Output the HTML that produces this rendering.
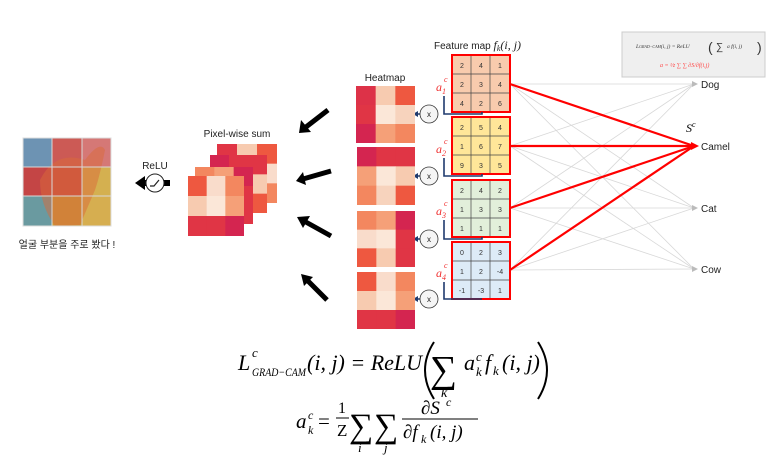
<!DOCTYPE html>
<html><head><meta charset="utf-8"><style>
body{margin:0;background:#fff;}
svg{display:block;font-family:"Liberation Sans","Noto Sans CJK KR",sans-serif;}
.m{font-family:"Liberation Serif",serif;font-style:italic;}
</style></head><body>
<svg width="771" height="466" viewBox="0 0 771 466" xmlns="http://www.w3.org/2000/svg">
<g stroke="#d8d8d8" stroke-width="0.8">
<line x1="510" y1="84" x2="694" y2="84"/><line x1="510" y1="84" x2="694" y2="208"/><line x1="510" y1="84" x2="694" y2="269"/>
<line x1="510" y1="146" x2="694" y2="84"/><line x1="510" y1="146" x2="694" y2="208"/><line x1="510" y1="146" x2="694" y2="269"/>
<line x1="510" y1="208" x2="694" y2="84"/><line x1="510" y1="208" x2="694" y2="208"/><line x1="510" y1="208" x2="694" y2="269"/>
<line x1="510" y1="270" x2="694" y2="84"/><line x1="510" y1="270" x2="694" y2="208"/><line x1="510" y1="270" x2="694" y2="269"/>
</g>
<g fill="#bbb"><polygon points="698,84 692,81 692,87"/><polygon points="698,208 692,205 692,211"/><polygon points="698,269 692,266 692,272"/></g>
<g stroke="#ff0000" stroke-width="2.2">
<line x1="510" y1="84" x2="694" y2="146"/><line x1="510" y1="146" x2="694" y2="146"/><line x1="510" y1="208" x2="694" y2="146"/><line x1="510" y1="270" x2="694" y2="146"/>
</g>
<polygon points="699,146 691,142 691,150" fill="#f00"/>
<g font-size="10" fill="#222"><text x="701" y="88">Dog</text><text x="701" y="150">Camel</text><text x="701" y="212">Cat</text><text x="701" y="273">Cow</text></g>
<text x="686" y="132" class="m" font-size="12">S<tspan font-size="8" dy="-5">c</tspan></text>

<rect x="622" y="32" width="143" height="45" fill="#efefef" stroke="#ccc"/>
<text x="636" y="48" font-size="5.5" class="m" fill="#333">L<tspan font-size="4">GRAD−CAM</tspan>(i, j) = ReLU</text>
<text x="708" y="52" font-size="14" fill="#333">(</text><text x="716" y="50" font-size="10" fill="#333">∑</text><text x="727" y="48" font-size="5.5" class="m" fill="#333">a f(i, j)</text><text x="757" y="52" font-size="14" fill="#333">)</text>
<text x="660" y="67" font-size="6" class="m" fill="#f44">a = ¹⁄z ∑ ∑ ∂S/∂f(i,j)</text>

<text x="434" y="49" font-size="10" fill="#222">Feature map <tspan class="m" font-size="12">f<tspan font-size="8" dy="2">k</tspan><tspan dy="-2">(i, j)</tspan></tspan></text>
<g font-size="7" fill="#333" text-anchor="middle">
<rect x="452" y="55" width="58" height="57" fill="#f8cbad" stroke="#f00" stroke-width="2"/>
<path d="M471 56V111M490 56V111M453 74H509M453 93H509" stroke="#444" stroke-width="0.7"/>
<text x="462" y="68">2</text><text x="481" y="68">4</text><text x="500" y="68">1</text><text x="462" y="87">2</text><text x="481" y="87">3</text><text x="500" y="87">4</text><text x="462" y="106">4</text><text x="481" y="106">2</text><text x="500" y="106">6</text>
<rect x="452" y="117" width="58" height="57" fill="#ffe699" stroke="#f00" stroke-width="2"/>
<path d="M471 118V173M490 118V173M453 136H509M453 155H509" stroke="#444" stroke-width="0.7"/>
<text x="462" y="130">2</text><text x="481" y="130">5</text><text x="500" y="130">4</text><text x="462" y="149">1</text><text x="481" y="149">6</text><text x="500" y="149">7</text><text x="462" y="168">9</text><text x="481" y="168">3</text><text x="500" y="168">5</text>
<rect x="452" y="180" width="58" height="57" fill="#e2efda" stroke="#f00" stroke-width="2"/>
<path d="M471 181V236M490 181V236M453 199H509M453 218H509" stroke="#444" stroke-width="0.7"/>
<text x="462" y="193">2</text><text x="481" y="193">4</text><text x="500" y="193">2</text><text x="462" y="212">1</text><text x="481" y="212">3</text><text x="500" y="212">3</text><text x="462" y="231">1</text><text x="481" y="231">1</text><text x="500" y="231">1</text>
<rect x="452" y="242" width="58" height="57" fill="#ddebf7" stroke="#f00" stroke-width="2"/>
<path d="M471 243V298M490 243V298M453 261H509M453 280H509" stroke="#444" stroke-width="0.7"/>
<text x="462" y="255">0</text><text x="481" y="255">2</text><text x="500" y="255">3</text><text x="462" y="274">1</text><text x="481" y="274">2</text><text x="500" y="274">-4</text><text x="462" y="293">-1</text><text x="481" y="293">-3</text><text x="500" y="293">1</text>
</g>
<g class="m" font-size="12" fill="#f03030">
<text x="436" y="91">a<tspan font-size="8" dy="3">1</tspan></text><text x="444" y="82" font-size="8">c</text>
<text x="436" y="153">a<tspan font-size="8" dy="3">2</tspan></text><text x="444" y="144" font-size="8">c</text>
<text x="436" y="215">a<tspan font-size="8" dy="3">3</tspan></text><text x="444" y="206" font-size="8">c</text>
<text x="436" y="277">a<tspan font-size="8" dy="3">4</tspan></text><text x="444" y="268" font-size="8">c</text>
</g>
<g stroke="#1f3a6e" stroke-width="1.6" fill="none">
<path d="M444 96V114H482V112M420 114H416"/>
<path d="M444 158V176H482V174M420 176H416"/>
<path d="M444 220V239H482V237M420 239H416"/>
<path d="M444 282V299H482V299M420 299H416"/>
</g>
<g fill="#1f3a6e"><polygon points="413,114 418,111 418,117"/><polygon points="413,176 418,173 418,179"/><polygon points="413,239 418,236 418,242"/><polygon points="413,299 418,296 418,302"/></g>
<g fill="#f5f5f5" stroke="#333" stroke-width="0.8"><circle cx="429" cy="114" r="9"/><circle cx="429" cy="176" r="9"/><circle cx="429" cy="239" r="9"/><circle cx="429" cy="299" r="9"/></g>
<g font-size="8" fill="#222" text-anchor="middle"><text x="429" y="117">x</text><text x="429" y="179">x</text><text x="429" y="242">x</text><text x="429" y="302">x</text></g>

<text x="385" y="81" font-size="10" fill="#222" text-anchor="middle">Heatmap</text>
<svg x="356" y="86" width="59" height="57" viewBox="0 0 3 3" preserveAspectRatio="none">
<rect x="0" y="0" width="1.02" height="1.02" fill="#dd3248"/><rect x="1" y="0" width="1.02" height="1.02" fill="#f7cbb0"/><rect x="2" y="0" width="1" height="1.02" fill="#ee5840"/>
<rect x="0" y="1" width="1.02" height="1.02" fill="#e03545"/><rect x="1" y="1" width="1.02" height="1.02" fill="#fbe7d8"/><rect x="2" y="1" width="1" height="1.02" fill="#f7d3bd"/>
<rect x="0" y="2" width="1.02" height="1" fill="#d42550"/><rect x="1" y="2" width="1.02" height="1" fill="#f5a078"/><rect x="2" y="2" width="1" height="1" fill="#f3875f"/></svg>
<svg x="357" y="147" width="58" height="58" viewBox="0 0 3 3" preserveAspectRatio="none">
<rect x="0" y="0" width="1.02" height="1.02" fill="#d42550"/><rect x="1" y="0" width="1.02" height="1.02" fill="#e03545"/><rect x="2" y="0" width="1" height="1.02" fill="#e03545"/>
<rect x="0" y="1" width="1.02" height="1.02" fill="#f5a078"/><rect x="1" y="1" width="1.02" height="1.02" fill="#fbe7d8"/><rect x="2" y="1" width="1" height="1.02" fill="#f7cbb0"/>
<rect x="0" y="2" width="1.02" height="1" fill="#f3875f"/><rect x="1" y="2" width="1.02" height="1" fill="#f7d3bd"/><rect x="2" y="2" width="1" height="1" fill="#ee5840"/></svg>
<svg x="357" y="211" width="58" height="56" viewBox="0 0 3 3" preserveAspectRatio="none">
<rect x="0" y="0" width="1.02" height="1.02" fill="#f3875f"/><rect x="1" y="0" width="1.02" height="1.02" fill="#f5a078"/><rect x="2" y="0" width="1" height="1.02" fill="#d42550"/>
<rect x="0" y="1" width="1.02" height="1.02" fill="#f9dccb"/><rect x="1" y="1" width="1.02" height="1.02" fill="#fbe7d8"/><rect x="2" y="1" width="1" height="1.02" fill="#e03545"/>
<rect x="0" y="2" width="1.02" height="1" fill="#ee5840"/><rect x="1" y="2" width="1.02" height="1" fill="#f7cbb0"/><rect x="2" y="2" width="1" height="1" fill="#e03545"/></svg>
<svg x="357" y="272" width="58" height="57" viewBox="0 0 3 3" preserveAspectRatio="none">
<rect x="0" y="0" width="1.02" height="1.02" fill="#ee5840"/><rect x="1" y="0" width="1.02" height="1.02" fill="#f9dccb"/><rect x="2" y="0" width="1" height="1.02" fill="#f3875f"/>
<rect x="0" y="1" width="1.02" height="1.02" fill="#f7cbb0"/><rect x="1" y="1" width="1.02" height="1.02" fill="#fbe7d8"/><rect x="2" y="1" width="1" height="1.02" fill="#f5a078"/>
<rect x="0" y="2" width="1.02" height="1" fill="#e03545"/><rect x="1" y="2" width="1.02" height="1" fill="#e03545"/><rect x="2" y="2" width="1" height="1" fill="#d42550"/></svg>

<g stroke="#000" stroke-width="5" fill="none">
<line x1="328" y1="110" x2="306" y2="127"/><line x1="331" y1="171" x2="303" y2="179"/><line x1="331" y1="236" x2="304" y2="221"/><line x1="327" y1="300" x2="306" y2="279"/>
</g>
<g fill="#000">
<polygon points="299,133 301,120 311,132"/>
<polygon points="296,181 303,172 306,185"/>
<polygon points="297,217 310,216 303,228"/>
<polygon points="301,274 313,277 304,286"/>
</g>

<text x="237" y="137" font-size="10" fill="#222" text-anchor="middle">Pixel-wise sum</text>
<svg x="217" y="144" width="60" height="59" viewBox="0 0 3 3" preserveAspectRatio="none">
<rect x="0" y="0" width="1.02" height="1.02" fill="#e03545"/><rect x="1" y="0" width="1.02" height="1.02" fill="#f7cbb0"/><rect x="2" y="0" width="1" height="1.02" fill="#ee5840"/>
<rect x="0" y="1" width="1.02" height="1.02" fill="#e03545"/><rect x="1" y="1" width="1.02" height="1.02" fill="#fbe7d8"/><rect x="2" y="1" width="1" height="1.02" fill="#f9dccb"/>
<rect x="0" y="2" width="1.02" height="1" fill="#d42550"/><rect x="1" y="2" width="1.02" height="1" fill="#f5a078"/><rect x="2" y="2" width="1" height="1" fill="#f3875f"/></svg>
<svg x="210" y="155" width="57" height="58" viewBox="0 0 3 3" preserveAspectRatio="none">
<rect x="0" y="0" width="1.02" height="1.02" fill="#d42550"/><rect x="1" y="0" width="1.02" height="1.02" fill="#e03545"/><rect x="2" y="0" width="1" height="1.02" fill="#e03545"/>
<rect x="0" y="1" width="1.02" height="1.02" fill="#f5a078"/><rect x="1" y="1" width="1.02" height="1.02" fill="#fbe7d8"/><rect x="2" y="1" width="1" height="1.02" fill="#f7cbb0"/>
<rect x="0" y="2" width="1.02" height="1" fill="#f3875f"/><rect x="1" y="2" width="1.02" height="1" fill="#f7d3bd"/><rect x="2" y="2" width="1" height="1" fill="#ee5840"/></svg>
<svg x="195" y="167" width="58" height="57" viewBox="0 0 3 3" preserveAspectRatio="none">
<rect x="0" y="0" width="1.02" height="1.02" fill="#f3875f"/><rect x="1" y="0" width="1.02" height="1.02" fill="#f5a078"/><rect x="2" y="0" width="1" height="1.02" fill="#d42550"/>
<rect x="0" y="1" width="1.02" height="1.02" fill="#f9dccb"/><rect x="1" y="1" width="1.02" height="1.02" fill="#fbe7d8"/><rect x="2" y="1" width="1" height="1.02" fill="#e03545"/>
<rect x="0" y="2" width="1.02" height="1" fill="#ee5840"/><rect x="1" y="2" width="1.02" height="1" fill="#f7cbb0"/><rect x="2" y="2" width="1" height="1" fill="#e03545"/></svg>
<svg x="188" y="176" width="56" height="60" viewBox="0 0 3 3" preserveAspectRatio="none">
<rect x="0" y="0" width="1.02" height="1.02" fill="#ee5840"/><rect x="1" y="0" width="1.02" height="1.02" fill="#f9dccb"/><rect x="2" y="0" width="1" height="1.02" fill="#f3875f"/>
<rect x="0" y="1" width="1.02" height="1.02" fill="#f7cbb0"/><rect x="1" y="1" width="1.02" height="1.02" fill="#fbe7d8"/><rect x="2" y="1" width="1" height="1.02" fill="#f5a078"/>
<rect x="0" y="2" width="1.02" height="1" fill="#e03545"/><rect x="1" y="2" width="1.02" height="1" fill="#e03545"/><rect x="2" y="2" width="1" height="1" fill="#d42550"/></svg>

<text x="155" y="169" font-size="10" fill="#222" text-anchor="middle">ReLU</text>
<rect x="144" y="180" width="26" height="6" fill="#000"/>
<polygon points="135,183 145,176 145,190" fill="#000"/>
<circle cx="155" cy="183" r="9" fill="#fff" stroke="#222" stroke-width="1"/>
<path d="M150 186H154L159 180" stroke="#222" stroke-width="1.2" fill="none"/>

<rect x="23" y="138" width="88" height="88" fill="#c9a070"/>
<rect x="23" y="138" width="29" height="29" fill="#6d93b3"/><rect x="52" y="138" width="30" height="29" fill="#cc5a55"/><rect x="82" y="138" width="29" height="29" fill="#d57876"/>
<rect x="23" y="167" width="29" height="29" fill="#c44545"/><rect x="52" y="167" width="30" height="29" fill="#c94a40"/><rect x="82" y="167" width="29" height="29" fill="#d4b050"/>
<rect x="23" y="196" width="29" height="30" fill="#6a9aa0"/><rect x="52" y="196" width="30" height="30" fill="#c89a38"/><rect x="82" y="196" width="29" height="30" fill="#d6ae50"/>
<path d="M40 180 Q55 150 85 160 Q100 140 105 150 Q100 175 95 190 L80 225 L55 226 Q40 205 40 180Z" fill="#d96a3a" opacity="0.5"/>
<path d="M52 138V226M82 138V226M23 167H111M23 196H111" stroke="#d8d8d8" stroke-width="1"/>
<rect x="23" y="138" width="88" height="88" fill="none" stroke="#ddd"/>
<text x="67" y="248" font-size="10" fill="#222" text-anchor="middle">얼굴 부분을 주로 봤다 !</text>

<g class="m" fill="#000">
<text x="238" y="370" font-size="22">L</text>
<text x="252" y="357" font-size="13">c</text>
<text x="252" y="376" font-size="12" textLength="54" lengthAdjust="spacingAndGlyphs">GRAD−CAM</text>
<text x="307" y="370" font-size="22">(i, j) = ReLU</text>
<path d="M434 342 Q416 370 434 399" stroke="#000" stroke-width="2" fill="none"/>
<text x="430" y="382" font-size="38" font-style="normal">∑</text>
<text x="441" y="397" font-size="14">k</text>
<text x="464" y="370" font-size="22">a</text>
<text x="476" y="361" font-size="13">c</text>
<text x="476" y="376" font-size="13">k</text>
<text x="485" y="370" font-size="22">f</text>
<text x="493" y="375" font-size="13">k</text>
<text x="502" y="370" font-size="22">(i, j)</text>
<path d="M538 342 Q556 370 538 399" stroke="#000" stroke-width="2" fill="none"/>

<text x="296" y="428" font-size="21">a</text>
<text x="308" y="419" font-size="12">c</text>
<text x="308" y="434" font-size="12">k</text>
<text x="318" y="428" font-size="21" font-style="normal">=</text>
<text x="338" y="413" font-size="16" font-style="normal">1</text>
<line x1="336" y1="418" x2="349" y2="418" stroke="#000" stroke-width="1"/>
<text x="337" y="436" font-size="17" font-style="normal">Z</text>
<text x="349" y="437" font-size="34" font-style="normal">∑</text><text x="358" y="452" font-size="13">i</text>
<text x="374" y="437" font-size="34" font-style="normal">∑</text><text x="384" y="452" font-size="13">j</text>
<text x="421" y="414" font-size="19">∂S</text><text x="446" y="406" font-size="12">c</text>
<line x1="402" y1="419" x2="478" y2="419" stroke="#000" stroke-width="1"/>
<text x="403" y="438" font-size="19">∂f</text><text x="421" y="443" font-size="12">k</text>
<text x="430" y="438" font-size="19">(i, j)</text>
</g>
</svg>
</body></html>
